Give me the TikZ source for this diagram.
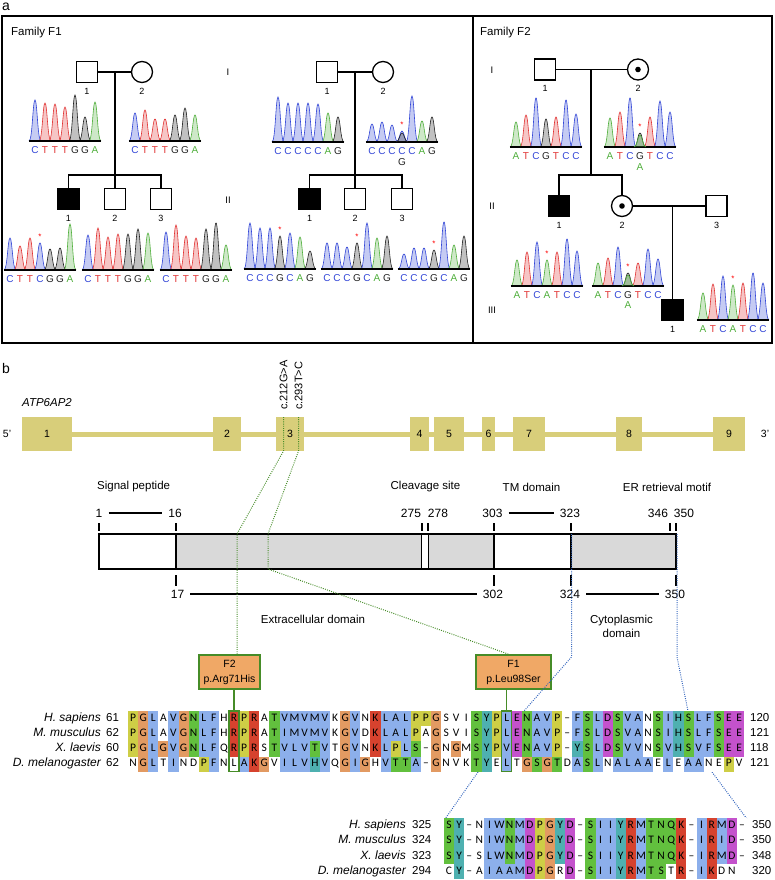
\documentclass[tikz,border=0pt]{standalone}
\usepackage{fontspec}
\setmainfont{Liberation Sans}
\newfontfamily\seqfont{Carlito}
\usepackage{xstring}
\usetikzlibrary{backgrounds}

\definecolor{colA}{RGB}{80,175,60}
\definecolor{colC}{RGB}{50,70,215}
\definecolor{colG}{RGB}{35,35,35}
\definecolor{colT}{RGB}{225,50,50}
\definecolor{exonY}{RGB}{216,206,122}
\definecolor{boxO}{RGB}{240,168,102}
\definecolor{greenL}{RGB}{70,140,40}
\definecolor{blueL}{RGB}{50,100,190}
\definecolor{barG}{RGB}{217,217,217}
% clustal colours
\definecolor{clb}{RGB}{140,175,235}
\definecolor{clr}{RGB}{214,66,46}
\definecolor{clm}{RGB}{196,82,204}
\definecolor{clg}{RGB}{98,192,62}
\definecolor{clo}{RGB}{226,154,98}
\definecolor{cly}{RGB}{206,206,70}
\definecolor{clc}{RGB}{78,176,176}
\definecolor{clw}{RGB}{255,255,255}

\newcommand{\fsz}[1]{\fontsize{#1}{#1}\selectfont}
\newcommand{\resw}{10.1}

\tikzset{
	frame/.style={line width=1.4pt},
	ped/.style={line width=1.3pt},
	male/.style={draw, rectangle, minimum size=21pt, inner sep=0pt, line width=1.3pt},
	female/.style={draw, circle, minimum size=21pt, inner sep=0pt, line width=1.3pt},
	affected/.style={fill=black},
	carrier/.style={path picture={\fill (path picture bounding box.center) circle (2.8pt);}},
	gen/.style={font=\fsz{9.5}, inner sep=0pt},
	basetxt/.style={font=\fsz{10}, inner sep=0pt},
	mutstar/.style={text=red, font=\fsz{8}, inner sep=0pt},
	exon/.style={fill=exonY, minimum height=34pt, inner sep=0pt, font=\fsz{10.5}},
	intron/.style={exonY, line width=5pt},
	ptxt/.style={font=\fsz{11.5}, inner sep=0pt},
	pnum/.style={font=\fsz{12}, inner sep=0pt},
	tickline/.style={line width=1.1pt},
	spanline/.style={line width=1.3pt, shorten <=6pt, shorten >=6pt},
	mutbox/.style={draw=greenL, fill=boxO, line width=1.4pt, align=center,
		font=\fontsize{10.5}{15}\selectfont, inner sep=0pt, minimum height=34pt},
	colbox/.style={draw=greenL, line width=1.3pt, inner sep=0pt, minimum width=\resw pt, minimum height=60.8pt},
	gdot/.style={greenL, line width=1pt, dash pattern=on 0.9pt off 1.3pt},
	bdot/.style={blueL, line width=1pt, dash pattern=on 0.9pt off 1.3pt},
	res/.style={inner sep=0pt, minimum width=\resw pt, minimum height=15.2pt,
		text height=8pt, text depth=2.5pt, font=\seqfont\fsz{11.5}},
	spec/.style={anchor=east, font=\itshape\fsz{12}, inner sep=0pt, text height=8pt, text depth=2.5pt},
	snum/.style={anchor=west, font=\fsz{11.5}, inner sep=0pt, text height=8pt, text depth=2.5pt},
}

% one peak of a trace: base, x, height
\newcommand{\peak}[3]{%
	\draw[draw=col#1, fill=col#1, fill opacity=0.28, line width=0.6pt]
		(#2-6,0) .. controls (#2-2.6,0) and (#2-2.2,-#3) .. (#2,-#3)
		.. controls (#2+2.2,-#3) and (#2+2.6,0) .. (#2+6,0);}

% trace: left x, baseline y, base/height list, index of the starred peak
\newcommand{\chromat}[4]{%
	\begin{scope}[shift={(#1,#2)}]
		\foreach \nb/\h [count=\i] in {#3}{
			\pgfmathsetmacro\px{\i*10-5}
			\peak{\nb}{\px}{\h}
			\node[basetxt, text=col\nb] at (\px,9) {\nb};
			\ifnum\i=#4\relax \node[mutstar] at (\px,-\h-6) {*};\fi
		}
		\draw[line width=1.3pt] (-1,0) -- (71,0);
	\end{scope}}

% one alignment row: left x, y, residues, colour codes
\newcommand{\alnrow}[4]{%
	\StrLen{#3}[\nres]%
	\foreach \i in {1,...,\nres}{%
		\StrChar{#3}{\i}[\ch]\StrChar{#4}{\i}[\cc]%
		\pgfmathsetmacro\rx{#1+(\i-0.5)*\resw}%
		\IfStrEq{\ch}{-}{\def\ch{\textendash}}{}%
		\node[res, fill=cl\cc] at (\rx,#2) {\ch};
	}}

\begin{document}
\begin{tikzpicture}[x=1pt, y=-1pt, every label/.style={font=\fsz{9}, inner sep=0pt}, label distance=4.5pt]
	\begin{scope}[on background layer]
		\fill[white] (0,0) rectangle (774,880);
	\end{scope}
	\useasboundingbox (0,0) rectangle (774,880);

	% panel a
	\node[font=\fsz{14}, inner sep=0pt] (lbla) at (6,7) {a};
	\draw[frame] (2,16) rectangle (772,343);
	\draw[frame] (473,16) -- (473,343);
	\node[anchor=west, font=\fsz{11.5}, inner sep=0pt] (famF1) at (11,33) {Family F1};
	\node[anchor=west, font=\fsz{11.5}, inner sep=0pt] (famF2) at (480,33) {Family F2};

	% family F1, first pedigree
	\node[male, label=below:1] (L-I1) at (87,72) {};
	\node[female, label=below:2] (L-I2) at (142,72) {};
	\coordinate (L-m) at (115,72);
	\coordinate (L-s) at (115,175);
	\node[male, affected, label=below:1] (L-II1) at (68.5,199) {};
	\node[male, label=below:2] (L-II2) at (115,199) {};
	\node[male, label=below:3] (L-II3) at (161,199) {};
	\draw[ped] (L-I1) -- (L-I2);
	\draw[ped] (L-m) -- (L-II2);
	\draw[ped] (L-II1) |- (L-s) -| (L-II3);

	\chromat{30}{141}{C/41,T/38,T/37,T/34,G/46,G/24,A/39}{0}
	\chromat{130}{141}{C/28,T/31,T/22,T/22,G/26,G/33,A/26}{0}
	\chromat{5}{270}{C/32,T/24,T/32,C/27,G/21,G/22,A/46}{4}
	\chromat{83}{270}{C/35,T/42,T/33,T/36,G/36,G/41,A/37}{0}
	\chromat{161}{270}{C/38,T/45,T/34,T/32,G/41,G/47,A/25}{0}

	\node[gen] (f1g1) at (228,72) {I};
	\node[gen] (f1g2) at (228,200) {II};

	% family F1, second pedigree
	\node[male, label=below:1] (R-I1) at (327,72) {};
	\node[female, label=below:2] (R-I2) at (383,72) {};
	\coordinate (R-m) at (355,72);
	\coordinate (R-s) at (355,175);
	\node[male, affected, label=below:1] (R-II1) at (309.5,199) {};
	\node[male, label=below:2] (R-II2) at (355,199) {};
	\node[male, label=below:3] (R-II3) at (402,199) {};
	\draw[ped] (R-I1) -- (R-I2);
	\draw[ped] (R-m) -- (R-II2);
	\draw[ped] (R-II1) |- (R-s) -| (R-II3);

	\chromat{273}{142}{C/45,C/39,C/39,C/39,C/38,A/29,G/25}{0}
	\chromat{367}{142}{C/18,C/20,C/17,C/11,C/46,A/21,G/25}{4}
	\begin{scope}[shift={(367,142)}] \peak{G}{35}{9} \end{scope}
	\node[basetxt, text=colG] (het1) at (402,162) {G};
	\chromat{245}{269}{C/46,C/41,C/41,G/33,C/36,A/32,G/18}{4}
	\chromat{322}{269}{C/26,C/26,C/22,G/26,C/46,A/31,G/33}{4}
	\chromat{399}{269}{C/15,C/21,C/21,G/19,C/47,A/24,G/33}{4}

	% family F2
	\node[gen] (f2g1) at (492,70) {I};
	\node[gen] (f2g2) at (492,206) {II};
	\node[gen] (f2g3) at (492,310) {III};
	\node[male, label=below:1] (F-I1) at (545,69.5) {};
	\node[female, carrier, label=below:2] (F-I2) at (638,69.5) {};
	\coordinate (F-m) at (591,69.5);
	\coordinate (F-s) at (591,175);
	\node[male, affected, label=below:1] (F-II1) at (559,206) {};
	\node[female, carrier, label=below:2] (F-II2) at (622,206) {};
	\node[male, label=below:3] (F-II3) at (716.5,206) {};
	\coordinate (F-m2) at (672.5,206);
	\node[male, affected, label=below:1] (F-III1) at (672.5,310) {};
	\draw[ped] (F-I1) -- (F-I2);
	\draw[ped] (F-m) -- (F-s);
	\draw[ped] (F-II1) |- (F-s) -| (F-II2);
	\draw[ped] (F-II2) -- (F-II3);
	\draw[ped] (F-m2) -- (F-III1);

	\chromat{511}{147}{A/25,T/32,C/49,G/28,T/30,C/47,C/33}{0}
	\chromat{605}{147}{A/29,T/35,C/49,G/14,T/30,C/46,C/35}{4}
	\begin{scope}[shift={(605,147)}] \peak{A}{35}{12} \end{scope}
	\node[basetxt, text=colA] (het2) at (640,167) {A};
	\chromat{512}{286}{A/26,T/34,C/44,A/26,T/34,C/47,C/35}{4}
	\chromat{593}{286}{A/23,T/28,C/39,G/13,T/23,C/37,C/27}{4}
	\begin{scope}[shift={(593,286)}] \peak{A}{35}{11} \end{scope}
	\node[basetxt, text=colA] (het3) at (628,305) {A};
	\chromat{698}{320}{A/27,T/36,C/44,A/35,T/37,C/47,C/37}{4}

	% panel b, gene
	\node[font=\fsz{14}, inner sep=0pt] (lblb) at (6,368) {b};
	\node[anchor=west, font=\itshape\fsz{11.5}, inner sep=0pt] (gene) at (22,403) {ATP6AP2};
	\node[font=\fsz{10.5}] (p5) at (7,434) {5'};
	\node[font=\fsz{10.5}] (p3) at (765,434) {3'};
	\foreach \n/\cx/\w in {1/47/50, 2/227/28, 3/290/28, 4/419.5/19, 5/449/30,
		6/488.5/13, 7/529/32, 8/629/26, 9/729/32}
		\node[exon, minimum width=\w pt] (ex\n) at (\cx,434) {\n};
	\begin{scope}[on background layer]
		\draw[intron] (ex1.center) -- (ex9.center);
	\end{scope}

	\coordinate (c212t) at (283.5,417);
	\coordinate (c212b) at (283.5,451);
	\coordinate (c293t) at (298.5,417);
	\coordinate (c293b) at (298.5,451);
	\node[rotate=90, anchor=west, font=\fsz{11}, inner sep=0pt] (mut1) at (283.5,410) {c.212G>A};
	\node[rotate=90, anchor=west, font=\fsz{11}, inner sep=0pt] (mut2) at (298.5,410) {c.293T>C};

	% protein
	\node[ptxt, anchor=west] (sig) at (97,487) {Signal peptide};
	\node[ptxt] (clv) at (425.5,487) {Cleavage site};
	\node[ptxt] (tm) at (531.5,487) {TM domain};
	\node[ptxt] (er) at (667,487) {ER retrieval motif};

	\node[pnum] (n1) at (99,513) {1};
	\node[pnum] (n16) at (175,513) {16};
	\node[pnum] (n275) at (411,513) {275};
	\node[pnum] (n278) at (438,513) {278};
	\node[pnum] (n303) at (492.5,513) {303};
	\node[pnum] (n323) at (570,513) {323};
	\node[pnum] (n346) at (658,513) {346};
	\node[pnum] (n350) at (684,513) {350};
	\draw[spanline] (n1) -- (n16);
	\draw[spanline] (n303) -- (n323);
	\foreach \tx in {99,176,422,428,494,571,670,676}
		\draw[tickline] (\tx,523) -- (\tx,531);

	\fill[barG] (176,534) rectangle (421.5,569);
	\fill[barG] (428.5,534) rectangle (494,569);
	\fill[barG] (571,534) rectangle (676,569);
	\draw[line width=1.3pt] (99,534) rectangle (676,569);
	\foreach \tx in {176,421.5,428.5,494,571}
		\draw[line width=1.3pt] (\tx,534) -- (\tx,569);

	\foreach \tx in {176,494,571,676}
		\draw[tickline] (\tx,575) -- (\tx,586);
	\node[pnum] (n17) at (177.5,594) {17};
	\node[pnum] (n302) at (493,594) {302};
	\node[pnum] (n324) at (570,594) {324};
	\node[pnum] (n350b) at (675,594) {350};
	\draw[spanline] (n17) -- (n302);
	\draw[spanline] (n324) -- (n350b);

	\node[ptxt] (ecd) at (313,619) {Extracellular domain};
	\node[ptxt, align=center, font=\fontsize{11.5}{14}\selectfont] (cyt) at (621.5,626) {Cytoplasmic\\domain};

	% mutation boxes
	\node[mutbox, minimum width=61pt] (mF2) at (229.5,672) {F2\\p.Arg71His};
	\node[mutbox, minimum width=75pt] (mF1) at (513.5,672) {F1\\p.Leu98Ser};

	\coordinate (g1) at (237,534);
	\coordinate (g2) at (268,534);
	\coordinate (g3) at (268,569);
	\draw[gdot] (c212t) -- (c212b) -- (g1) -- (mF2.north -| g1);
	\draw[gdot] (c293t) -- (c293b) -- (g2) -- (g3) -- ([xshift=-4.5pt]mF1.north);

	\coordinate (b1) at (571.5,534);
	\coordinate (b2) at (571.5,657);
	\coordinate (b3) at (524,711);
	\coordinate (d1) at (677,534);
	\coordinate (d2) at (677,657);
	\coordinate (d3) at (688,711);
	\draw[bdot] (b1) -- (b2) -- (b3);
	\draw[bdot] (d1) -- (d2) -- (d3);
	\coordinate (b4) at (478,772);
	\coordinate (b5) at (445,819);
	\coordinate (d4) at (712,772);
	\coordinate (d5) at (747,819);
	\draw[bdot] (b4) -- (b5);
	\draw[bdot] (d4) -- (d5);

	% alignment 61-121
	\node[spec] (hs1) at (101,718.6) {H. sapiens};
	\node[spec] (mm1) at (101,733.8) {M. musculus};
	\node[spec] (xl1) at (101,749) {X. laevis};
	\node[spec] (dm1) at (101,764.2) {D. melanogaster};
	\node[snum] at (106,718.6) {61};
	\node[snum] at (106,733.8) {62};
	\node[snum] at (106,749) {60};
	\node[snum] at (106,764.2) {62};
	\alnrow{128}{718.6}{PGLAVGNLFHRPRATVMVMVKGVNKLALPPGSVISYPLENAVP-FSLDSVANSIHSLFSEE}%
		{yobwbogbbwryrwgbbbbbwobwrbbbyyowwwgcybmgbbywbgbmgbbwgbcgbbgmm}
	\alnrow{128}{733.8}{PGLAVGNLFHRPRATIMVMVKGVDKLALPAGSVISYPLENAVP-FSLDSVANSIHSLFSEE}%
		{yobwbogbbwryrwgbbbbbwobwrbbbywowwwgcybmgbbywbgbmgbbwgbcgbbgmm}
	\alnrow{128}{749}{PGLGVGNLFQRPRSTVLVTVTGVNKLPLS-GNGMSYPVENAVP-YSLDSVVNSVHSVFSEE}%
		{yobobogbbwryrwgbbbgbwobwrbybgwowowgcybmgbbywcgbmgbbwgbcgbbgmm}
	\alnrow{128}{764.2}{NGLTINDPFNLAKGVILVHVQGIGHVTTA-GNVKTYELTGSGTDASLNALAAELEAANEPV}%
		{wobwbwwybwwbrowbbbcbwobowbggbwowwwgcwbwogogwbgbwbbbbwbwbbwwyw}
	\node[snum] at (750,718.6) {120};
	\node[snum] at (750,733.8) {121};
	\node[snum] at (750,749) {118};
	\node[snum] at (750,764.2) {121};

	\node[colbox] (boxR) at (234.05,741.4) {};
	\node[colbox] (boxL) at (506.75,741.4) {};
	\draw[greenL, line width=1.3pt] (mF2.south -| boxR) -- (boxR.north);
	\draw[greenL, line width=1.3pt] (mF1.south -| boxL) -- (boxL.north);

	% alignment 294-350
	\node[spec] (hs2) at (406,826) {H. sapiens};
	\node[spec] (mm2) at (406,841.2) {M. musculus};
	\node[spec] (xl2) at (406,856.4) {X. laevis};
	\node[spec] (dm2) at (406,871.6) {D. melanogaster};
	\node[snum] at (412,826) {325};
	\node[snum] at (412,841.2) {324};
	\node[snum] at (412,856.4) {323};
	\node[snum] at (412,871.6) {294};
	\alnrow{444}{826}{SY-NIWNMDPGYD-SIIYRMTNQK-IRMD-}{gcwwbbgbmyocmwgbbcrbgggrwbrbmw}
	\alnrow{444}{841.2}{SY-NIWNMDPGYD-SIIYRMTNQK-IRID-}{gcwwbbgbmyocmwgbbcrbgggrwbrbmw}
	\alnrow{444}{856.4}{SY-SLWNMDPGYD-SIIYRMTNQK-IRMD-}{gcwwbbgbmyocmwgbbcrbgggrwbrbmw}
	\alnrow{444}{871.6}{CY-AIAAMDPGRD-SIIYRMTSTR-IKDN}{wcwwbbbbmyowmwgbbcrbggwrwbrww}
	\node[snum] at (752,826) {350};
	\node[snum] at (752,841.2) {350};
	\node[snum] at (752,856.4) {348};
	\node[snum] at (752,871.6) {320};
\end{tikzpicture}
\end{document}
